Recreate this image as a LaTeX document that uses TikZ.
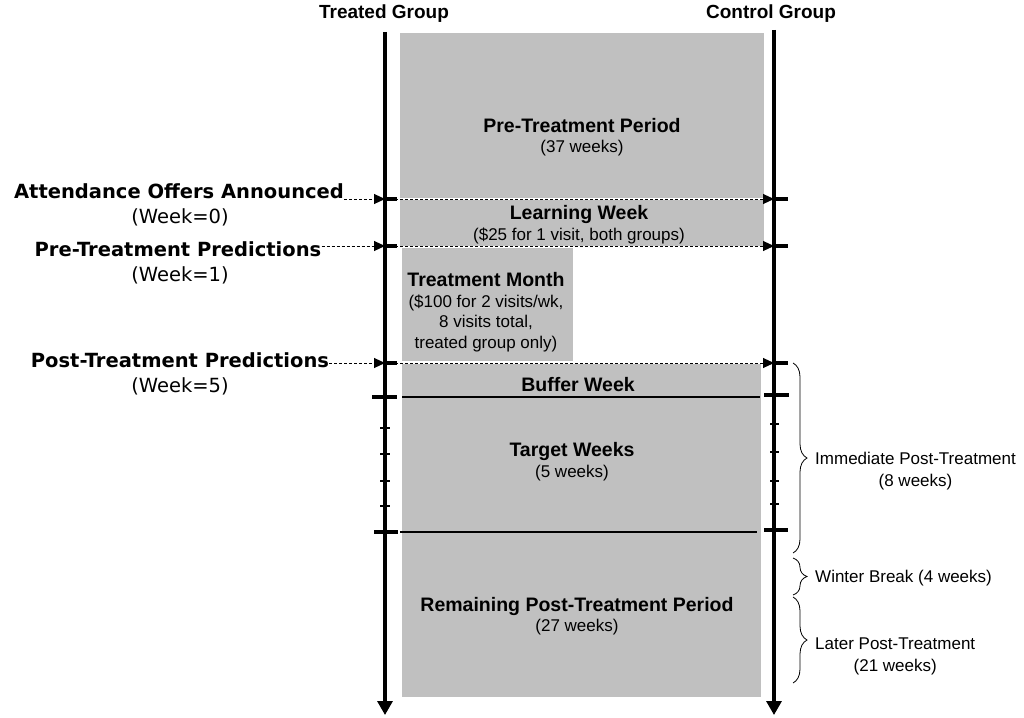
\documentclass[tikz,border=0pt]{standalone}
\usepackage{fontspec}
\setmainfont{Liberation Sans}
\newfontfamily\verdfont{DejaVu Sans}
\usetikzlibrary{arrows.meta,decorations.pathreplacing}
\definecolor{periodgray}{RGB}{192,192,192}
\newcommand\hd[1]{{\fontsize{19.5}{21}\selectfont\bfseries #1}}

\begin{document}
\begin{tikzpicture}[x=1pt,y=-1pt,
    timeline/.style={line width=3.2pt,-{Triangle[width=15pt,length=14pt]}},
    bigtick/.style={line width=3.2pt},
    smalltick/.style={line width=2pt},
    event/.style={line width=1pt,dash pattern=on 3pt off 2pt,-{Triangle[width=10pt,length=11pt]}},
    period/.style={align=center,inner sep=0pt,font=\fontsize{17}{20.5}\selectfont},
    head/.style={inner sep=0pt,font=\fontsize{19}{22}\selectfont\bfseries},
    eventlabel/.style={inner sep=0pt,font=\verdfont\fontsize{19.5}{23}\selectfont\bfseries},
    week/.style={inner sep=0pt,font=\verdfont\fontsize{19.5}{23}\selectfont},
    span/.style={decorate,decoration={brace,amplitude=14pt},line width=0.8pt},
    spanlabel/.style={align=center,inner sep=0pt,font=\fontsize{17}{22}\selectfont}]
    \useasboundingbox (0,0) rectangle (1024,717);
    % periods
    \fill[periodgray] (400,33) rectangle (764,198);
    \fill[periodgray] (400,200) rectangle (764,246);
    \fill[periodgray] (402,248) rectangle (573,361);
    \fill[periodgray] (402,364) rectangle (761,697);
    \draw[line width=2pt] (402,397)--(760,397) (400,532)--(757,532);
    \node[period] (pretreat) at (582,137) {\hd{Pre-Treatment Period}\\(37 weeks)};
    \node[period] (learning) at (579,224.5) {\hd{Learning Week}\\(\$25 for 1 visit, both groups)};
    \node[period] (treatmonth) at (486,312) {\hd{Treatment Month}\\(\$100 for 2 visits/wk,\\8 visits total,\\treated group only)};
    \node[period] (buffer) at (578,385) {\hd{Buffer Week}};
    \node[period] (target) at (572,461.5) {\hd{Target Weeks}\\(5 weeks)};
    \node[period] (remaining) at (577,616) {\hd{Remaining Post-Treatment Period}\\(27 weeks)};
    % the two groups
    \node[head] (treated) at (384,13.5) {Treated Group};
    \node[head] (control) at (771,13.5) {Control Group};
    \coordinate (ttop) at (385,32);
    \coordinate (tend) at (385,715);
    \coordinate (ctop) at (774,30);
    \coordinate (cend) at (774,715);
    \draw[timeline] (ttop)--(tend);
    \draw[timeline] (ctop)--(cend);
    \draw[bigtick] (372,397)--(397,397) (374,532)--(398,532);
    \draw[bigtick] (764,395)--(789,395) (764,530)--(788,530);
    \foreach \a/\b in {428/424,454/452,481/481,506/504}
      \draw[smalltick] (380,\a)--(390,\a) (770,\b)--(779,\b);
    % events
    \foreach \y in {199,246,363} {
      \coordinate (t\y) at (385,\y);
      \coordinate (c\y) at (774,\y);
      \draw[event] (t\y)--(c\y);
      \draw[bigtick] (t\y)--+(12,0) (c\y)--+(14,0);
    }
    \node[eventlabel] (offers) at (179,191) {Attendance Offers Announced};
    \node[week] (offerswk) at (180,217) {(Week=0)};
    \node[eventlabel] (prepred) at (178,249.5) {Pre-Treatment Predictions};
    \node[week] (prepredwk) at (180,275.5) {(Week=1)};
    \node[eventlabel] (postpred) at (180,360.5) {Post-Treatment Predictions};
    \node[week] (postpredwk) at (180,386.5) {(Week=5)};
    \draw[event] (offers.east |- t199)--(t199);
    \draw[event] (prepred.east |- t246)--(t246);
    \draw[event] (postpred.east |- t363)--(t363);
    % post-treatment spans
    \draw[span] (793,363)--(793,553);
    \draw[span] (793,558)--(793,595);
    \draw[span] (793,597)--(793,683);
    \node[spanlabel,anchor=north west] (immediate) at (815,452) {Immediate Post-Treatment\\(8 weeks)};
    \node[spanlabel,anchor=west] (winter) at (815,578) {Winter Break (4 weeks)};
    \node[spanlabel,anchor=north west] (later) at (815,638) {Later Post-Treatment\\(21 weeks)};
  \end{tikzpicture}
\end{document}
